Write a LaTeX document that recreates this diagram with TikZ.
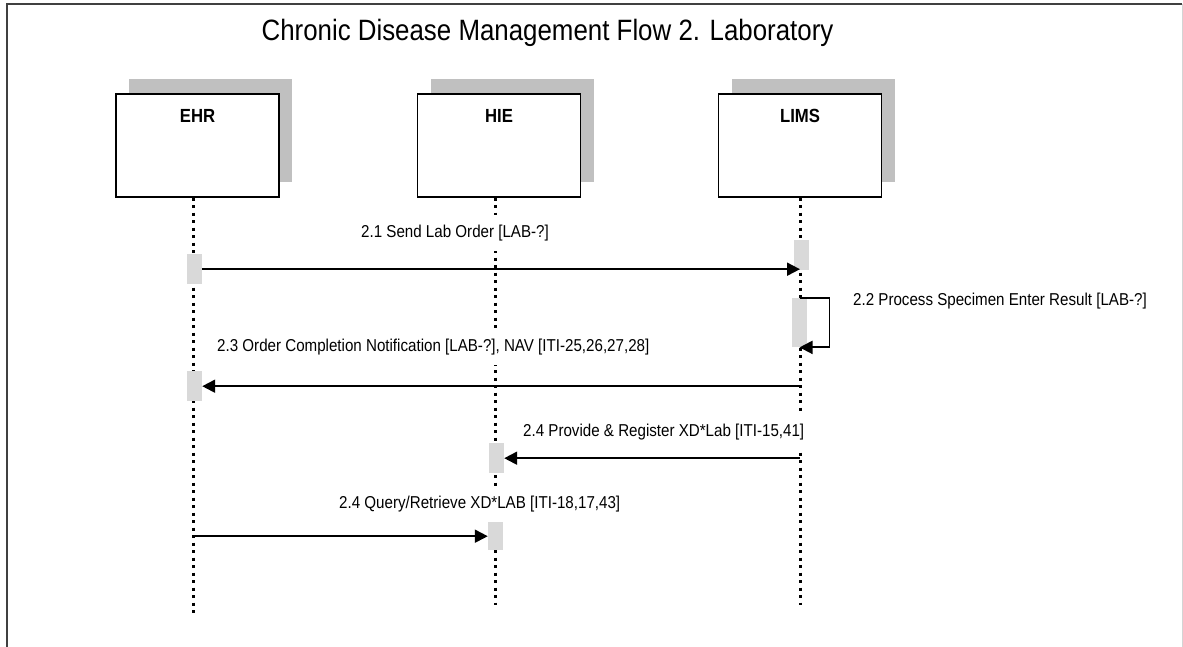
\documentclass[tikz,border=0pt]{standalone}
\usepackage{fontspec}
\setmainfont{Liberation Sans}[FakeStretch=0.88]
\usetikzlibrary{arrows.meta,positioning,calc,shadows}
\definecolor{shadowgray}{HTML}{C0C0C0}
\definecolor{bargray}{HTML}{D9D9D9}
\definecolor{framegray}{HTML}{404040}
\definecolor{edgegray}{HTML}{D4D4D4}

\begin{document}
\begin{tikzpicture}[x=1pt,y=-1pt,
  headbox/.style={draw,line width=1.6pt,fill=white,minimum width=163pt,minimum height=103pt,inner ysep=0pt,text height=29pt,text depth=74pt,anchor=north,font=\fontsize{19}{21}\selectfont\bfseries,drop shadow={shadow xshift=13pt,shadow yshift=15pt,fill=shadowgray,opacity=1}},
  lifeline/.style={line width=3pt,dash pattern=on 3pt off 4.5pt},
  actbar/.style={fill=bargray,inner sep=0pt,minimum width=15pt,minimum height=30pt,anchor=north},
  msg/.style={line width=1.9pt,-{Triangle[length=13pt,width=13pt]}},
  msglabel/.style={fill=white,inner sep=0pt,text height=22pt,text depth=14pt,anchor=base west,font=\fontsize{17.2}{20}\selectfont}]
\useasboundingbox (0,0) rectangle (1183,647);
\draw[framegray,line width=2pt] (7,647) -- (7,4) -- (1182,4);
\draw[edgegray,line width=1pt] (1182,4) -- (1182,647);
\node[font=\fontsize{29.4}{32}\selectfont,anchor=base] (title) at (547.5,41) {Chronic Disease Management Flow 2. Laboratory};

\node[headbox] (ehr) at (197.5,93) {EHR};
\node[headbox] (hie) at (499,93) {HIE};
\node[headbox] (lims) at (800,93) {LIMS};

% lifelines
\coordinate (ehrEnd) at (193.3,617);
\coordinate (hieEnd) at (495.7,605);
\coordinate (limsEnd) at (800,605);
\draw[lifeline] (ehrEnd |- ehr.south) -- (ehrEnd);
\draw[lifeline] (hieEnd |- hie.south) -- (hieEnd);
\draw[lifeline] (limsEnd |- lims.south) -- (limsEnd);

\node[msglabel] (m1) at (361,237) {2.1 Send Lab Order [LAB-?]};
\node[msglabel] (m2) at (853,305) {2.2 Process Specimen Enter Result [LAB-?]};
\node[msglabel] (m3) at (217,351) {2.3 Order Completion Notification [LAB-?], NAV [ITI-25,26,27,28]};
\node[msglabel] (m4) at (523,436) {2.4 Provide \& Register XD*Lab [ITI-15,41]};
\node[msglabel] (m5) at (339,508) {2.4 Query/Retrieve XD*LAB [ITI-18,17,43]};

% activation bars
\node[actbar] (a1) at (194.5,254) {};
\node[actbar] (b1) at (801.5,240) {};
\node[actbar,minimum height=49pt] (b2) at (799.5,298) {};
\node[actbar] (a2) at (194.5,371) {};
\node[actbar] (c1) at (496.5,443) {};
\node[actbar,minimum height=28pt] (c2) at (495.5,522) {};

\path[msg]
(a1.east) edge (a1.east -| limsEnd)
(a2.east -| limsEnd) edge (a2.east)
(c1.east -| limsEnd) edge (c1.east)
(c2.west -| ehrEnd) edge (c2.west)
;
\draw[msg] (b2.north) -- ++(30,0) |- (b2.south);
\end{tikzpicture}
\end{document}
